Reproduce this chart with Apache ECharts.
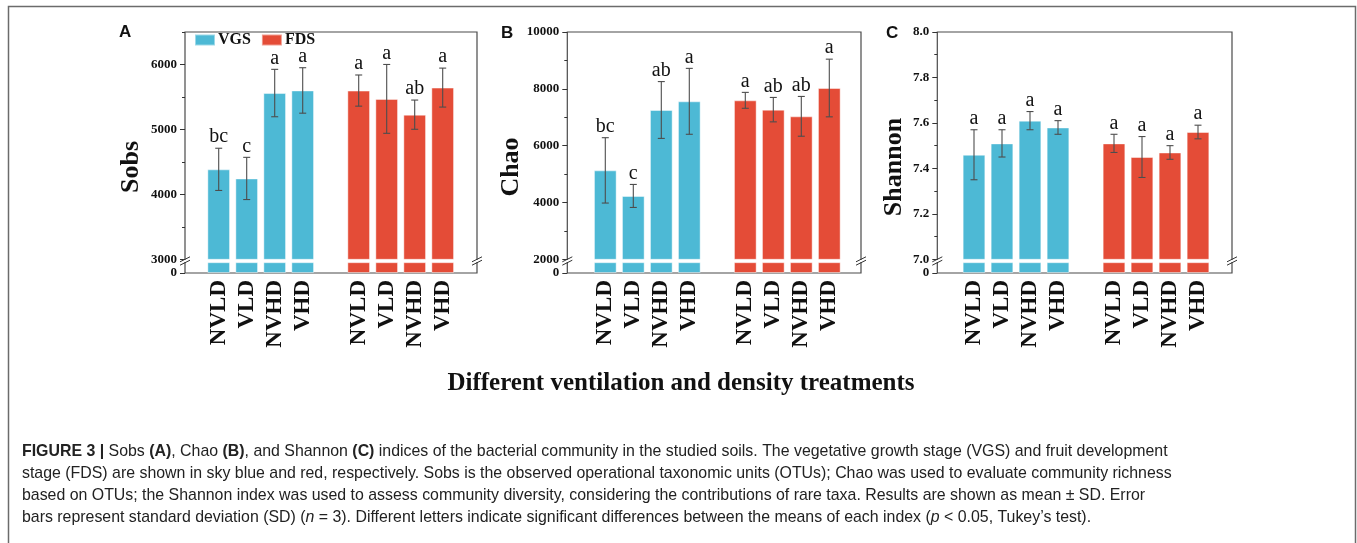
<!DOCTYPE html>
<html>
<head>
<meta charset="utf-8">
<script src="https://cdn.jsdelivr.net/npm/echarts@6/dist/echarts.min.js"></script>
<style>
  html, body { margin: 0; padding: 0; background: #fff; }
  #chart { width: 1357px; height: 543px; }
</style>
</head>
<body>
<div id="chart"></div>
<script>
// Treatments on the x axis; the empty slot separates the two growth stages
const categories = ['NVLD', 'VLD', 'NVHD', 'VHD', '', 'NVLD', 'VLD', 'NVHD', 'VHD'];
const stages = ['VGS', 'FDS'];

// Sobs (mean, SD, significance letters)
const sobsVGS = [4385, 4245, 5560, 5600];
const sobsVGSsd = [325, 325, 365, 350];
const sobsFDS = [5598, 5470, 5227, 5644];
const sobsFDSsd = [240, 530, 225, 300];
const sobsLetters = ['bc', 'c', 'a', 'a', '', 'a', 'a', 'ab', 'a'];
const sobsTicks = [3000, 4000, 5000, 6000];
const sobsMinorTicks = [3500, 4500, 5500, 6500];

// Chao
const chaoVGS = [5130, 4230, 7255, 7560];
const chaoVGSsd = [1150, 405, 1000, 1160];
const chaoFDS = [7595, 7267, 7032, 8029];
const chaoFDSsd = [280, 430, 700, 1015];
const chaoLetters = ['bc', 'c', 'ab', 'a', '', 'a', 'ab', 'ab', 'a'];
const chaoTicks = [2000, 4000, 6000, 8000, 10000];
const chaoMinorTicks = [3000, 5000, 7000, 9000];

// Shannon
const shannonVGS = [7.46, 7.51, 7.61, 7.58];
const shannonVGSsd = [0.11, 0.06, 0.04, 0.03];
const shannonFDS = [7.51, 7.45, 7.47, 7.56];
const shannonFDSsd = [0.04, 0.09, 0.03, 0.03];
const shannonLetters = ['a', 'a', 'a', 'a', '', 'a', 'a', 'a', 'a'];
const shannonTicks = [7.0, 7.2, 7.4, 7.6, 7.8, 8.0];
const shannonMinorTicks = [7.1, 7.3, 7.5, 7.7, 7.9];

const W = 1357, H = 543;
const SERIF = '"Liberation Serif", "Times New Roman", Times, serif';
const SANS = '"Liberation Sans", Arial, Helvetica, sans-serif';
const BLUE = '#4db9d5';
const RED = '#e44c37';

// vertical layout shared by the three panels (axis broken just above zero)
const plotTop = 32, breakTop = 259.3, breakBottom = 262.7, plotBottom = 273;

const panels = [
  { letter: 'A', title: 'Sobs', frameL: 185, frameR: 477, slotL: 204.7, slotR: 456.7,
    min: 3000, max: 6500, ticks: sobsTicks, minor: sobsMinorTicks, digits: 0,
    nameX: 131, letterX: 119, letterY: 24,
    vgs: sobsVGS, vgsSd: sobsVGSsd, fds: sobsFDS, fdsSd: sobsFDSsd, letters: sobsLetters },
  { letter: 'B', title: 'Chao', frameL: 567.3, frameR: 861, slotL: 591.3, slotR: 843.3,
    min: 2000, max: 10000, ticks: chaoTicks, minor: chaoMinorTicks, digits: 0,
    nameX: 511, letterX: 501, letterY: 25,
    vgs: chaoVGS, vgsSd: chaoVGSsd, fds: chaoFDS, fdsSd: chaoFDSsd, letters: chaoLetters },
  { letter: 'C', title: 'Shannon', frameL: 937.3, frameR: 1232, slotL: 960, slotR: 1212,
    min: 7.0, max: 8.0, ticks: shannonTicks, minor: shannonMinorTicks, digits: 1,
    nameX: 894, letterX: 886, letterY: 25,
    vgs: shannonVGS, vgsSd: shannonVGSsd, fds: shannonFDS, fdsSd: shannonFDSsd, letters: shannonLetters }
];

const tickFont = { fontFamily: SERIF, fontWeight: 'bold', fontSize: 13, color: '#111' };

const grid = [], xAxis = [], yAxis = [], series = [], title = [], graphic = [];

function stageData(values, offset) {
  return categories.map((c, i) => (i >= offset && i < offset + values.length) ? values[i - offset] : '-');
}

panels.forEach(p => {
  const offset = p.slotL - p.frameL;

  // frame around the panel
  const gFrame = grid.length;
  grid.push({ left: p.frameL, right: W - p.frameR, top: plotTop, bottom: H - plotBottom,
    show: true, borderColor: '#4a4a4a', borderWidth: 1.2, backgroundColor: 'transparent' });
  xAxis.push({ gridIndex: gFrame, type: 'value', show: false });
  yAxis.push({ gridIndex: gFrame, type: 'value', show: false });

  // upper part of the broken axis
  const gUp = grid.length;
  grid.push({ left: p.slotL, right: W - p.slotR, top: plotTop, bottom: H - breakTop });
  const xUp = xAxis.length;
  xAxis.push({ gridIndex: gUp, type: 'category', data: categories, show: false });
  const yUp = yAxis.length;
  yAxis.push({
    gridIndex: gUp, type: 'value', position: 'left', offset: offset,
    min: p.min, max: p.max,
    axisLine: { show: false },
    axisTick: { show: true, customValues: p.ticks, length: 5, lineStyle: { color: '#333', width: 1 } },
    axisLabel: { customValues: p.ticks, margin: 8, formatter: v => Number(v).toFixed(p.digits), ...tickFont },
    splitLine: { show: false }
  });
  yAxis.push({
    gridIndex: gUp, type: 'value', position: 'left', offset: offset,
    min: p.min, max: p.max,
    axisLine: { show: false },
    axisTick: { show: true, customValues: p.minor, length: 3, lineStyle: { color: '#333', width: 1 } },
    axisLabel: { show: false },
    splitLine: { show: false }
  });

  // lower stub of the broken axis, from zero to the break
  const gLow = grid.length;
  grid.push({ left: p.slotL, right: W - p.slotR, top: breakBottom, bottom: H - plotBottom });
  const xLow = xAxis.length;
  xAxis.push({
    gridIndex: gLow, type: 'category', data: categories,
    axisLine: { show: false }, axisTick: { show: false },
    axisLabel: { interval: 0, rotate: 90, margin: 7, fontFamily: SERIF, fontWeight: 'bold', fontSize: 23, color: '#111' }
  });
  const yLow = yAxis.length;
  yAxis.push({
    gridIndex: gLow, type: 'value', position: 'left', offset: offset,
    min: 0, max: p.min,
    axisLine: { show: false },
    axisTick: { show: true, customValues: [0], length: 5, lineStyle: { color: '#333', width: 1 } },
    axisLabel: { customValues: [0], margin: 8, ...tickFont },
    splitLine: { show: false }
  });

  const barStyle = (color) => ({ color: color, borderColor: 'rgba(255,255,255,0.45)', borderWidth: 1 });
  [[xUp, yUp], [xLow, yLow]].forEach(([xi, yi]) => {
    series.push({
      type: 'bar', name: stages[0], xAxisIndex: xi, yAxisIndex: yi,
      data: stageData(p.vgs, 0), barWidth: 22.7, barGap: '-100%',
      itemStyle: barStyle(BLUE), clip: true, silent: true
    });
    series.push({
      type: 'bar', name: stages[1], xAxisIndex: xi, yAxisIndex: yi,
      data: stageData(p.fds, 5), barWidth: 22.7, barGap: '-100%',
      itemStyle: barStyle(RED), clip: true, silent: true
    });
  });

  // error bars (mean ± SD) with significance letters
  const errData = [];
  p.vgs.forEach((m, i) => errData.push([i, m, p.vgsSd[i]]));
  p.fds.forEach((m, i) => errData.push([i + 5, m, p.fdsSd[i]]));
  series.push({
    type: 'custom', xAxisIndex: xUp, yAxisIndex: yUp, data: errData, silent: true, z: 5,
    renderItem: (params, api) => {
      const xi = api.value(0), m = api.value(1), s = api.value(2);
      const top = api.coord([xi, m + s]);
      const bot = api.coord([xi, m - s]);
      const cap = 3.5;
      const stroke = { stroke: '#4d4d4d', lineWidth: 1.1 };
      return {
        type: 'group',
        children: [
          { type: 'line', shape: { x1: top[0], y1: top[1], x2: bot[0], y2: bot[1] }, style: stroke },
          { type: 'line', shape: { x1: top[0] - cap, y1: top[1], x2: top[0] + cap, y2: top[1] }, style: stroke },
          { type: 'line', shape: { x1: bot[0] - cap, y1: bot[1], x2: bot[0] + cap, y2: bot[1] }, style: stroke },
          { type: 'text', x: top[0], y: top[1] - 1,
            style: { text: p.letters[xi], fill: '#111', align: 'center', verticalAlign: 'bottom',
                     font: '20px ' + SERIF } }
        ]
      };
    }
  });

  title.push({ text: p.letter, left: p.letterX, top: p.letterY, padding: 0,
    textStyle: { fontFamily: SANS, fontWeight: 'bold', fontSize: 17, color: '#111' } });

  // rotated y-axis title, centred on the whole frame height
  graphic.push({ type: 'text', x: p.nameX, y: 167, rotation: Math.PI / 2,
    style: { text: p.title, align: 'center', verticalAlign: 'middle', fill: '#111',
             font: 'bold 26px ' + SERIF } });

  // break marks on both sides of the frame
  [p.frameL, p.frameR].forEach(x => {
    graphic.push({ type: 'rect', shape: { x: x - 2, y: breakTop + 0.6, width: 4, height: breakBottom - breakTop - 1.2 },
      style: { fill: '#fff' }, z: 100 });
    graphic.push({ type: 'line', shape: { x1: x - 5, y1: breakTop + 2.5, x2: x + 5, y2: breakTop - 2.5 },
      style: { stroke: '#333', lineWidth: 1 }, z: 101 });
    graphic.push({ type: 'line', shape: { x1: x - 5, y1: breakBottom + 2.5, x2: x + 5, y2: breakBottom - 2.5 },
      style: { stroke: '#333', lineWidth: 1 }, z: 101 });
  });
});

// shared x-axis title
title.push({ text: 'Different ventilation and density treatments', left: 681, top: 371, textAlign: 'center', padding: 0,
  textStyle: { fontFamily: SERIF, fontWeight: 'bold', fontSize: 25, color: '#111' } });

// figure caption
const capBase = { fontFamily: SANS, fontSize: 15.9, color: '#222', lineHeight: 22 };
title.push({
  left: 22, top: 441, padding: 0,
  text: '{b|FIGURE 3 |} Sobs {b|(A)}, Chao {b|(B)}, and Shannon {b|(C)} indices of the bacterial community in the studied soils. The vegetative growth stage (VGS) and fruit development\n' +
        'stage (FDS) are shown in sky blue and red, respectively. Sobs is the observed operational taxonomic units (OTUs); Chao was used to evaluate community richness\n' +
        'based on OTUs; the Shannon index was used to assess community diversity, considering the contributions of rare taxa. Results are shown as mean \u00b1 SD. Error\n' +
        'bars represent standard deviation (SD) ({i|n} = 3). Different letters indicate significant differences between the means of each index ({i|p} < 0.05, Tukey\u2019s test).',
  textStyle: {
    ...capBase, fontWeight: 'normal',
    rich: {
      b: { ...capBase, fontWeight: 'bold' },
      i: { ...capBase, fontStyle: 'italic' }
    }
  }
});

// outer figure border
graphic.push({ type: 'rect', shape: { x: 8.5, y: 6.5, width: 1347, height: 560 },
  style: { fill: 'none', stroke: '#6b6b6b', lineWidth: 1.5 }, z: 0, silent: true });

const chart = echarts.init(document.getElementById('chart'), null, { renderer: 'canvas' });
chart.setOption({
  animation: false,
  backgroundColor: '#fff',
  title: title,
  legend: {
    data: stages, left: 194, top: 32, padding: 0, itemGap: 10,
    itemWidth: 20, itemHeight: 11, icon: 'rect',
    textStyle: { fontFamily: SERIF, fontWeight: 'bold', fontSize: 16, color: '#111', padding: [0, 0, 0, -2] }
  },
  grid: grid,
  xAxis: xAxis,
  yAxis: yAxis,
  series: series,
  graphic: graphic
});
</script>
</body>
</html>
